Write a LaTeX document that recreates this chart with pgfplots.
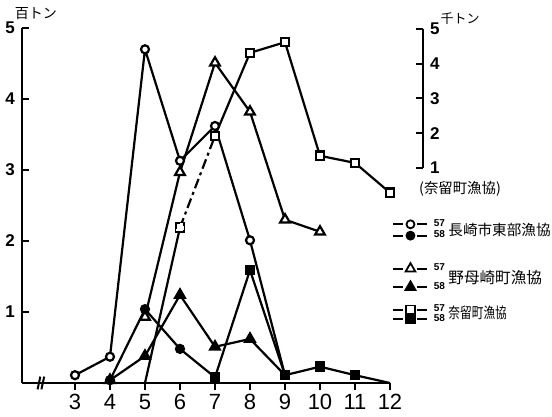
\documentclass[border=0pt]{standalone}
\usepackage{pgfplots}
\pgfplotsset{compat=1.18}
\usepackage{fontspec}
\usepackage{graphicx}
\setmainfont{Liberation Sans}
\newfontfamily\jp{Noto Sans CJK JP}

\pgfplotsset{
  mylegimg/.style={legend image code/.code={%
      \draw[##1, mark=none] (0pt,0pt) -- (5pt,0pt);
      \draw[##1, mark=none] (12pt,0pt) -- (17pt,0pt);
      \begin{pgfinterruptboundingbox}
      \draw[##1, only marks] plot coordinates {(8.5pt,0pt)};
      \end{pgfinterruptboundingbox}
      \path[draw=none, fill=none] (0pt,-2pt) rectangle (17pt,2pt);
  }},
  geom/.style={at={(0pt,0pt)}, anchor=south west, x=17.5pt, y=35.5pt,
    xmin=1.486, xmax=12, ymin=0, ymax=5},
  legaxis/.style={geom, hide axis, mylegimg,
    legend style={draw=none, fill=none, anchor=west,
      font=\fontsize{5}{5}\selectfont\bfseries,
      legend cell align=left, inner sep=0pt,
      nodes={inner sep=0.6pt}, column sep=2pt}},
}

\begin{document}
\begin{tikzpicture}
\useasboundingbox (-11pt,-17pt) rectangle (265pt,191.5pt);

\pgfplotstableread{
x y
3 0.11
4 0.37
5 4.70
6 3.13
7 3.62
8 2.01
9 0.11
}\cA
\pgfplotstableread{
x y
4 0.04
5 1.04
6 0.48
7 0.08
}\cB
\pgfplotstableread{
x y
5 0.93
6 2.97
7 4.51
8 3.82
9 2.30
10 2.13
}\tA
\pgfplotstableread{
x y
4 0.04
5 0.38
6 1.24
7 0.51
8 0.62
9 0.11
}\tB
\pgfplotstableread{
x y
5 0
6 2.19
}\sAa
\pgfplotstableread{
x y
6 2.19
7 3.48
}\sAb
\pgfplotstableread{
x y
7 3.48
8 4.65
9 4.80
10 3.20
11 3.10
12 2.68
}\sAc
\pgfplotstableread{
x y
7 0.08
8 1.59
9 0.11
10 0.23
11 0.11
12 0
}\sB

\begin{axis}[geom,
  axis x line=bottom, axis y line=left,
  axis line style={-, line width=1.1pt},
  xtick={3,...,12}, ytick={1,...,5},
  tick align=inside, major tick length=3.5pt,
  tick style={line width=1pt, black},
  xtick style={yshift=-3.5pt},
  xticklabel style={font=\fontsize{11}{11}\selectfont, yshift=-2pt},
  yticklabel style={font=\fontsize{8.5}{8.5}\selectfont\bfseries},
  /pgf/number format/assume math mode=true,
  clip=false,
  every axis plot/.append style={black, line width=1.1pt, mark options={solid, line width=0.9pt}},
]
\addplot[mark=square*, mark size=2.1pt, mark options={fill=white}, mark indices={2}] table {\sAa};
\addplot[dash pattern=on 5pt off 2pt on 1.5pt off 2pt, mark=square*, mark size=2.1pt, mark options={fill=white}] table {\sAb};
\addplot[mark=square*, mark size=2.1pt, mark options={fill=white}] table {\sAc};
\addplot[mark=triangle*, mark size=2.8pt, mark options={fill=white}] table {\tA};
\addplot[mark=*, mark size=2pt, mark options={fill=white}, mark indices={1,2,3,4,5,6}] table {\cA};
\addplot[mark=triangle*, mark size=2.8pt, mark options={fill=black}, mark indices={1,2,3,4,5}] table {\tB};
\addplot[mark=*, mark size=2pt, mark options={fill=black}, mark indices={1,2,3}] table {\cB};
\addplot[mark=square*, mark size=2.1pt, mark options={fill=black}, mark indices={1,2,3,4,5}] table {\sB};
\draw[line width=1pt] (axis cs:1.93,-0.09) -- (axis cs:2.01,0.09);
\draw[line width=1pt] (axis cs:2.04,-0.09) -- (axis cs:2.12,0.09);
\end{axis}

% right axis (thousand tons)
\begin{axis}[at={(200.5pt,107.5pt)}, anchor=south east, x=10pt, xmin=0, xmax=1,
  y=17.375pt, ymin=1, ymax=5,
  axis y line=right, axis x line=none,
  axis line style={-, line width=1.1pt},
  ytick={1,...,5}, tick align=inside, major tick length=3.5pt,
  tick style={line width=1pt, black},
  yticklabel style={font=\fontsize{8.5}{8.5}\selectfont\bfseries},
  /pgf/number format/assume math mode=true]
\end{axis}

% legends
\begin{axis}[legaxis, legend style={at={(1.0054,0.431)}, row sep=-0.5pt}]
\addlegendimage{black, line width=1.1pt, mark=*, mark size=2pt, mark options={fill=white, line width=0.9pt}}
\addlegendentry{57}
\addlegendimage{black, line width=1.1pt, mark=*, mark size=2pt, mark options={fill=black, line width=0.9pt}}
\addlegendentry{58}
\end{axis}
\begin{axis}[legaxis, legend style={at={(1.0054,0.296)}, row sep=3pt}]
\addlegendimage{black, line width=1.1pt, mark=triangle*, mark size=2.8pt, mark options={fill=white, line width=0.9pt}}
\addlegendentry{57}
\addlegendimage{black, line width=1.1pt, mark=triangle*, mark size=2.8pt, mark options={fill=black, line width=0.9pt}}
\addlegendentry{58}
\end{axis}
\begin{axis}[legaxis, legend style={at={(1.0054,0.193)}, row sep=-1.5pt}]
\addlegendimage{black, line width=1.1pt, mark=square*, mark size=2.1pt, mark options={fill=white, line width=0.9pt}}
\addlegendentry{57}
\addlegendimage{black, line width=1.1pt, mark=square*, mark size=2.1pt, mark options={fill=black, line width=0.9pt}}
\addlegendentry{58}
\end{axis}

\node[anchor=west, inner sep=0pt, font=\jp\fontsize{7.3}{7.3}\selectfont] at (213pt,76.5pt) {長崎市東部漁協};
\node[anchor=west, inner sep=0pt, font=\jp\fontsize{7.8}{7.8}\selectfont] at (213pt,52.5pt) {野母崎町漁協};
\node[anchor=west, inner sep=0pt, font=\jp\fontsize{7.5}{7.5}\selectfont] at (213pt,35pt) {\scalebox{0.78}[1]{奈留町漁協}};
\node[inner sep=0pt, font=\jp\fontsize{7}{7}\selectfont] at (7pt,184.5pt) {百トン};
\node[inner sep=0pt, font=\jp\fontsize{6.5}{6.5}\selectfont] at (219pt,182pt) {千トン};
\node[inner sep=0pt, font=\jp\fontsize{7.2}{7.2}\selectfont] at (219pt,97.25pt) {(奈留町漁協)};
\end{tikzpicture}
\end{document}
